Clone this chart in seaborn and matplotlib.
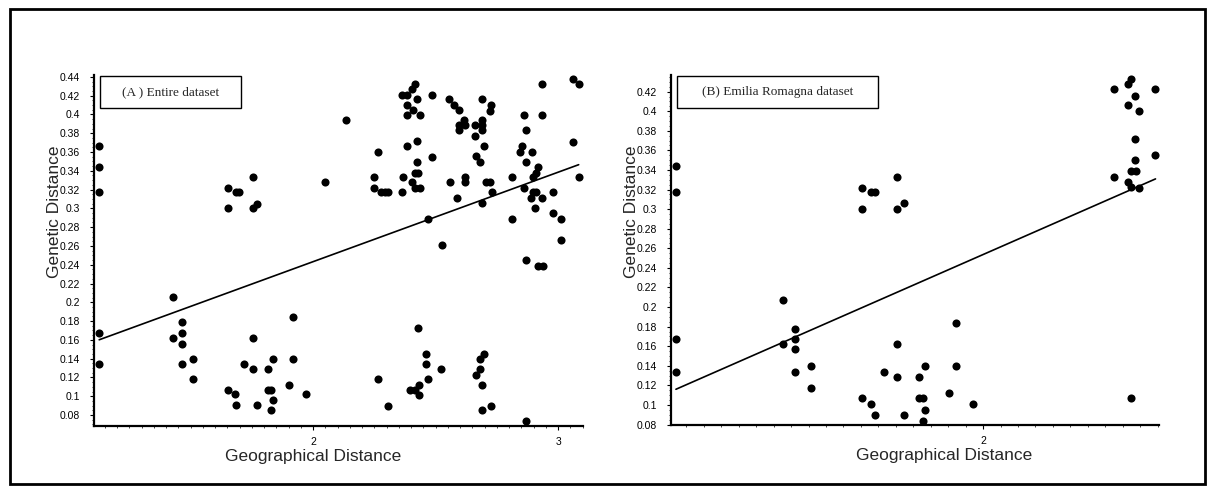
import numpy as np
import pandas as pd
import matplotlib
matplotlib.use("Agg")
import matplotlib.pyplot as plt
from matplotlib.patches import Rectangle
from matplotlib.ticker import MultipleLocator, FuncFormatter
import seaborn as sns

# (A) entire dataset: geographical vs genetic distance
geo_a = [1.127, 1.127, 1.127, 1.127, 1.127,
         1.430, 1.464, 1.464, 1.430, 1.464, 1.464, 1.509, 1.509,
         1.653, 1.686, 1.698, 1.653, 1.756, 1.756, 1.773,
         1.653, 1.680, 1.687, 1.717, 1.756, 1.756, 1.773, 1.815, 1.836, 1.815,
         1.829, 1.836, 1.827, 1.903, 1.920, 1.920, 1.970,
         2.049,
         2.135, 2.264, 2.248, 2.248, 2.278, 2.292, 2.306, 2.363, 2.366, 2.384,
         2.424, 2.423, 2.416, 2.428, 2.404, 2.416, 2.437, 2.486, 2.486, 2.363,
         2.382, 2.403, 2.416, 2.423, 2.384, 2.407, 2.382, 2.438,
         2.555, 2.576, 2.597, 2.690, 2.725, 2.721, 2.614, 2.596, 2.620, 2.596,
         2.660, 2.691, 2.691, 2.691, 2.659, 2.698, 2.665, 2.682, 2.557, 2.622,
         2.622, 2.705, 2.722, 2.729, 2.589, 2.691, 2.469, 2.528,
         2.812, 2.812, 2.862, 2.933, 2.867, 2.933, 3.062, 3.084, 3.062, 3.084,
         2.851, 2.845, 2.892, 2.869, 2.917, 2.908, 2.899, 2.862, 2.899, 2.908,
         2.890, 2.933, 2.981, 2.906, 2.981, 3.012, 3.012,
         2.869, 2.920, 2.937, 2.427, 2.460, 2.460, 2.521, 2.264, 2.469, 2.433,
         2.396, 2.415, 2.433, 2.306, 2.682, 2.698, 2.682, 2.665, 2.691, 2.691,
         2.727, 2.867]
gen_a = [0.366, 0.344, 0.317, 0.167, 0.134,
         0.206, 0.179, 0.167, 0.162, 0.156, 0.134, 0.140, 0.118,
         0.322, 0.317, 0.317, 0.300, 0.333, 0.300, 0.305,
         0.107, 0.102, 0.091, 0.134, 0.162, 0.129, 0.091, 0.129, 0.140, 0.107,
         0.107, 0.096, 0.085, 0.112, 0.184, 0.140, 0.102,
         0.328,
         0.394, 0.360, 0.333, 0.322, 0.317, 0.317, 0.317, 0.317, 0.333, 0.366,
         0.372, 0.349, 0.338, 0.338, 0.328, 0.322, 0.322, 0.355, 0.421, 0.421,
         0.421, 0.427, 0.432, 0.416, 0.410, 0.405, 0.399, 0.399,
         0.416, 0.410, 0.405, 0.416, 0.410, 0.404, 0.394, 0.389, 0.389, 0.383,
         0.389, 0.394, 0.389, 0.383, 0.377, 0.366, 0.356, 0.349, 0.328, 0.333,
         0.328, 0.328, 0.328, 0.317, 0.311, 0.306, 0.289, 0.261,
         0.289, 0.333, 0.399, 0.399, 0.383, 0.432, 0.438, 0.432, 0.371, 0.333,
         0.366, 0.360, 0.360, 0.349, 0.344, 0.338, 0.333, 0.322, 0.317, 0.317,
         0.311, 0.311, 0.317, 0.300, 0.295, 0.289, 0.266,
         0.245, 0.239, 0.239, 0.173, 0.145, 0.134, 0.129, 0.118, 0.118, 0.112,
         0.107, 0.107, 0.101, 0.090, 0.140, 0.145, 0.129, 0.123, 0.112, 0.085,
         0.090, 0.074]

# (B) Emilia Romagna subset
geo_b = [1.120, 1.120, 1.120, 1.120,
         1.652, 1.652, 1.678, 1.690, 1.754, 1.754, 1.774,
         1.428, 1.461, 1.461, 1.428, 1.461, 1.461, 1.508, 1.508,
         1.652, 1.678, 1.690, 1.716, 1.754, 1.754, 1.774, 1.815, 1.834, 1.816,
         1.829, 1.834, 1.829, 1.903, 1.923, 1.923, 1.972,
         2.424,
         2.374, 2.415, 2.424, 2.494, 2.435, 2.415, 2.447, 2.435, 2.494, 2.435,
         2.424, 2.437, 2.374, 2.415, 2.424, 2.447]
gen_b = [0.344, 0.317, 0.167, 0.134,
         0.322, 0.300, 0.317, 0.317, 0.333, 0.300, 0.306,
         0.207, 0.178, 0.167, 0.162, 0.157, 0.134, 0.140, 0.117,
         0.107, 0.101, 0.090, 0.134, 0.162, 0.129, 0.090, 0.129, 0.140, 0.107,
         0.107, 0.095, 0.084, 0.112, 0.184, 0.140, 0.101,
         0.107,
         0.423, 0.428, 0.433, 0.423, 0.416, 0.406, 0.400, 0.372, 0.355, 0.350,
         0.339, 0.339, 0.333, 0.328, 0.323, 0.322]

titles = ["(A ) Entire dataset", "(B) Emilia Romagna dataset"]

sns.set_style("white")
plt.rcParams['font.family'] = ['Liberation Sans', 'DejaVu Sans']

fig = plt.figure(figsize=(12.15, 4.93), dpi=100)
fig.patches.append(Rectangle((0.008, 0.018), 0.984, 0.964, transform=fig.transFigure,
                             fill=False, edgecolor='black', linewidth=2))

ax_a = fig.add_axes([0.0774, 0.1359, 0.4025, 0.712])
ax_b = fig.add_axes([0.5523, 0.1379, 0.4016, 0.710])

panels = [
    (ax_a, geo_a, gen_a, (1.106, 3.102), (0.0683, 0.442), 0.44, 0.448, 0.300),
    (ax_b, geo_b, gen_b, (1.106, 2.504), (0.0795, 0.437), 0.42, 0.560, 0.4236),
]

fmt = FuncFormatter(lambda v, p: f"{round(v, 2):g}")

for i, (ax, gx, gy, xl, yl, ytop, xlab_pos, box_w) in enumerate(panels):
    df = pd.DataFrame({'geo': gx, 'gen': gy})
    sns.regplot(data=df, x='geo', y='gen', ax=ax, ci=None, color='black',
                scatter_kws={'s': 34, 'linewidths': 0, 'alpha': 1},
                line_kws={'linewidth': 1.2})
    ax.set_xlim(*xl)
    ax.set_ylim(*yl)
    ax.set_yticks(np.arange(0.08, ytop + 0.001, 0.02))
    ax.yaxis.set_major_formatter(fmt)
    ax.yaxis.set_minor_locator(MultipleLocator(0.005))
    ax.set_xticks([2, 3] if i == 0 else [2])
    ax.xaxis.set_minor_locator(MultipleLocator(0.05))
    ax.tick_params(axis='both', which='major', labelsize=7.5, length=3, width=0.8,
                   direction='out', pad=2, left=True, bottom=True, colors='black')
    ax.tick_params(axis='y', which='major', pad=7)
    ax.tick_params(axis='x', which='major', pad=5)
    ax.tick_params(axis='both', which='minor', length=1.5, width=0.6, left=True, bottom=True)
    for s in ['top', 'right']:
        ax.spines[s].set_visible(False)
    for s in ['left', 'bottom']:
        ax.spines[s].set_linewidth(1.6)
        ax.spines[s].set_color('black')
    ax.set_xlabel("Geographical Distance", fontsize=12.5)
    ax.set_ylabel("Genetic Distance", fontsize=12.5)
    ax.xaxis.set_label_coords(xlab_pos, -0.066)
    ax.yaxis.set_label_coords(-0.066, 0.61)
    ax.add_patch(Rectangle((0.012, 0.905), box_w - 0.012, 0.093, transform=ax.transAxes,
                           fill=False, edgecolor='black', linewidth=1, zorder=5))
    ax.text((0.012 + box_w) / 2, 0.951, titles[i], transform=ax.transAxes,
            ha='center', va='center', fontsize=9.5, family=['Liberation Serif', 'DejaVu Serif'])

fig.savefig("out.png", dpi=100)
